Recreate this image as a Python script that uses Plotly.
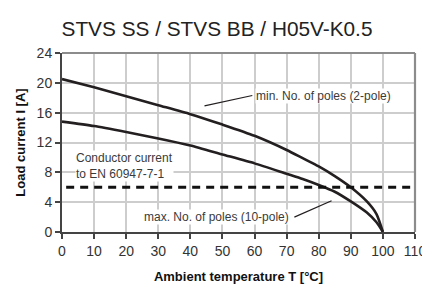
import plotly.graph_objects as go

# ---- data ----
temperature = [0, 10, 20, 30, 40, 50, 60, 70, 75, 80, 85, 90, 95, 98, 100]
current_2pole = [20.5, 19.4, 18.2, 17.0, 15.8, 14.4, 12.9, 11.0, 9.9, 8.8, 7.5, 6.0, 4.1, 2.4, 0]
current_10pole = [14.8, 14.2, 13.4, 12.55, 11.6, 10.4, 9.2, 7.8, 7.1, 6.3, 5.4, 4.1, 2.6, 1.3, 0]
conductor_x = [1.3, 110]
conductor_y = [6, 6]

x_ticks = list(range(0, 111, 10))
y_ticks = list(range(0, 25, 4))

FONT = "Liberation Sans, Arial, Helvetica, sans-serif"
CURVE = "#231f20"
TEXT = "#3a3a3a"

fig = go.Figure()
fig.add_trace(go.Scatter(x=temperature, y=current_2pole, mode="lines",
                         line=dict(color=CURVE, width=2.6, shape="spline", smoothing=0.6),
                         hoverinfo="skip", showlegend=False))
fig.add_trace(go.Scatter(x=temperature, y=current_10pole, mode="lines",
                         line=dict(color=CURVE, width=2.6, shape="spline", smoothing=0.6),
                         hoverinfo="skip", showlegend=False))
fig.add_trace(go.Scatter(x=conductor_x, y=conductor_y, mode="lines",
                         line=dict(color="#111111", width=3, dash="8px,6px"),
                         hoverinfo="skip", showlegend=False))

# leader lines
fig.add_shape(type="line", xref="x", yref="y", x0=44.4, y0=16.9, x1=59.3, y1=18.3,
              line=dict(color=CURVE, width=1.2))
fig.add_shape(type="line", xref="x", yref="y", x0=72.4, y0=2.0, x1=84.0, y1=4.2,
              line=dict(color=CURVE, width=1.2))
# grey frame on top/right
fig.add_shape(type="line", xref="paper", yref="paper", x0=0, y0=1, x1=1, y1=1,
              line=dict(color="#8c8c8c", width=2.2))
fig.add_shape(type="line", xref="paper", yref="paper", x0=1, y0=0, x1=1, y1=1,
              line=dict(color="#8c8c8c", width=2.2))

ann_font = dict(family=FONT, size=12, color=TEXT)
fig.add_annotation(x=60.0, y=18.3, xref="x", yref="y", text="min. No. of poles (2-pole)",
                   showarrow=False, xanchor="left", yanchor="middle", font=ann_font,
                   bgcolor="white", borderpad=0)
fig.add_annotation(x=71.2, y=2.0, xref="x", yref="y", text="max. No. of poles (10-pole)",
                   showarrow=False, xanchor="right", yanchor="middle", font=ann_font,
                   bgcolor="white", borderpad=0)
fig.add_annotation(x=4.2, y=8.8, xref="x", yref="y", text="Conductor current<br>to EN 60947-7-1",
                   showarrow=False, xanchor="left", yanchor="middle", align="left",
                   font=ann_font, bgcolor="white", borderpad=0)

axis_common = dict(
    showgrid=True, gridcolor="#cdcdcd", gridwidth=2,
    showline=True, linecolor="#444444", linewidth=2,
    ticks="outside", ticklen=5, tickwidth=1.5, tickcolor="#444444",
    tickfont=dict(family=FONT, size=14, color="#333333"),
    zeroline=False, fixedrange=True,
)

fig.update_layout(
    width=430, height=286,
    margin=dict(l=52, r=15, t=45, b=54),
    paper_bgcolor="white", plot_bgcolor="white",
    title=dict(text="STVS SS / STVS BB / H05V-K0.5", xref="container", yref="container",
               x=209 / 430, xanchor="center", y=1 - 21 / 286, yanchor="middle",
               font=dict(family=FONT, size=20.8, color="#222222")),
    xaxis=dict(range=[0, 110], tickvals=x_ticks,
               title=dict(text="<b>Ambient temperature T [°C]</b>", standoff=14,
                          font=dict(family=FONT, size=13, color="#111111")),
               **axis_common),
    yaxis=dict(range=[0, 24], tickvals=y_ticks,
               title=dict(text="<b>Load current I [A]</b>", standoff=8,
                          font=dict(family=FONT, size=13, color="#111111")),
               **axis_common),
)

fig.write_html("out.html")
